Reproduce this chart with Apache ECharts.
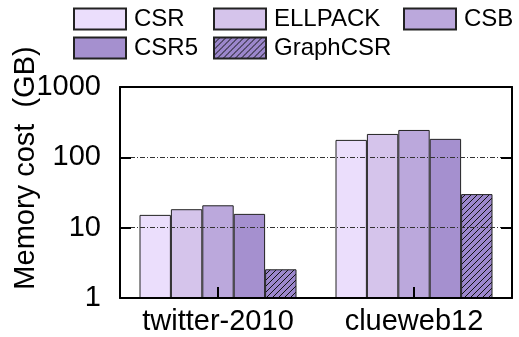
<!DOCTYPE html>
<html>
<head>
<meta charset="utf-8">
<script src="https://cdn.jsdelivr.net/npm/echarts@6/dist/echarts.min.js"></script>
<style>
  html, body { margin: 0; padding: 0; background: #fff; }
  #chart { width: 519px; height: 337px; }
</style>
</head>
<body>
<div id="chart"></div>
<script>
// Memory footprint of sparse formats (GB, log scale)
const categories = ['twitter-2010', 'clueweb12'];
const formatNames = ['CSR', 'ELLPACK', 'CSB', 'CSR5', 'GraphCSR'];
const csrValues = [15.2, 177];
const ellpackValues = [18.3, 215];
const csbValues = [20.8, 245];
const csr5Values = [15.7, 183];
const graphCsrValues = [2.56, 30];
const yTickValues = [1, 10, 100, 1000];

const FONT = '"Liberation Sans", Arial, Helvetica, sans-serif';

// Diagonal hatch tile for GraphCSR
function hatchTile(base, size) {
  const c = document.createElement('canvas');
  c.width = size; c.height = size;
  const g = c.getContext('2d');
  g.fillStyle = base;
  g.fillRect(0, 0, size, size);
  g.strokeStyle = '#111';
  g.lineWidth = 1;
  g.beginPath();
  g.moveTo(0, size); g.lineTo(size, 0);
  g.moveTo(-1, 1); g.lineTo(1, -1);
  g.moveTo(size - 1, size + 1); g.lineTo(size + 1, size - 1);
  g.stroke();
  return c;
}

const colors = ['#ebdefc', '#d5c4eb', '#bba8dc', '#a590cf'];
const hatch = { image: hatchTile('#9c87cc', 6), repeat: 'repeat' };
const valueSets = [csrValues, ellpackValues, csbValues, csr5Values, graphCsrValues];

// inward category ticks on the bottom border, as short segments from the axis floor
const tickFloor = 1;
const tickTop = 1.43;
const categoryTicks = categories.map(c => [
  { coord: [c, tickFloor] },
  { coord: [c, tickTop] }
]);

const chart = echarts.init(document.getElementById('chart'), null, { renderer: 'canvas' });

const series = formatNames.map((name, i) => ({
  name: name,
  type: 'bar',
  xAxisIndex: 0,
  yAxisIndex: 0,
  data: valueSets[i],
  barWidth: 31.4,
  barGap: '0%',
  itemStyle: {
    color: i < 4 ? colors[i] : hatch,
    borderColor: '#222',
    borderWidth: 1
  },
  emphasis: { disabled: true }
}));

// carrier series for the category ticks (sits at category centres, no bar offset)
series.push({
  name: 'ticks',
  type: 'line',
  xAxisIndex: 0,
  yAxisIndex: 0,
  data: [],
  silent: true,
  showSymbol: false,
  markLine: {
    silent: true,
    animation: false,
    symbol: ['none', 'none'],
    label: { show: false },
    lineStyle: { color: '#000', width: 2, type: 'solid' },
    emphasis: { disabled: true },
    data: categoryTicks
  }
});

const legendSpots = [
  { left: 73, top: 7 },
  { left: 213, top: 7 },
  { left: 403, top: 7 },
  { left: 73, top: 36 },
  { left: 213, top: 36 }
];
const legends = formatNames.map((name, i) => ({
  data: [name],
  left: legendSpots[i].left,
  top: legendSpots[i].top,
  padding: 0,
  icon: 'rect',
  itemWidth: 52,
  itemHeight: 21,
  selectedMode: false,
  textStyle: { fontFamily: FONT, fontSize: 24, color: '#000', padding: [0, 0, 0, 3] }
}));

const logAxisBase = {
  type: 'log',
  logBase: 10,
  min: 1,
  max: 1000,
  z: 5,
  axisLine: { show: true, onZero: false, lineStyle: { color: '#000', width: 2 } },
  axisTick: { show: true, inside: true, length: 11, lineStyle: { color: '#000', width: 2 } },
  minorTick: { show: false }
};

chart.setOption({
  animation: false,
  backgroundColor: '#fff',
  grid: { left: 120, right: 7, top: 87, bottom: 39 },
  legend: legends,
  xAxis: [
    {
      type: 'category',
      data: categories,
      position: 'bottom',
      z: 5,
      axisLine: { onZero: false, lineStyle: { color: '#000', width: 2 } },
      axisTick: { show: false },
      axisLabel: { fontFamily: FONT, fontSize: 29, color: '#000', margin: 9, interval: 0 }
    },
    {
      type: 'category',
      data: categories,
      position: 'top',
      z: 5,
      axisLine: { onZero: false, lineStyle: { color: '#000', width: 2 } },
      axisTick: { show: false },
      axisLabel: { show: false }
    }
  ],
  yAxis: [
    Object.assign({}, logAxisBase, {
      position: 'left',
      axisLabel: {
        fontFamily: FONT, fontSize: 29, color: '#000', margin: 19,
        formatter: v => (yTickValues.indexOf(v) >= 0 ? String(v) : '')
      },
      splitLine: { show: true, lineStyle: { color: '#333', width: 1, type: [5, 2, 1, 2] } }
    }),
    Object.assign({}, logAxisBase, {
      position: 'right',
      axisLabel: { show: false },
      splitLine: { show: false }
    })
  ],
  graphic: [
    {
      type: 'text',
      x: 26,
      y: 168,
      rotation: Math.PI / 2,
      style: {
        text: 'Memory cost  (GB)',
        font: '29px ' + FONT,
        fill: '#000',
        align: 'center',
        verticalAlign: 'middle'
      }
    }
  ],
  series: series
});
</script>
</body>
</html>
